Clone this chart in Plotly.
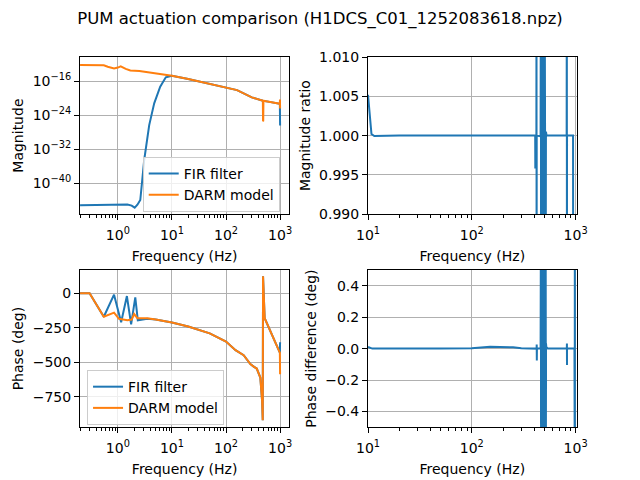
import plotly.graph_objects as go
from plotly.subplots import make_subplots

# magnitude (log10 of value)
fir_freq = [0.2, 0.5, 1.0, 1.5, 1.8, 2.05, 2.3, 2.6, 3.07, 3.8, 4.7, 6.07, 7.7, 9.3, 10,
            20, 50, 100, 160, 300, 400, 480, 600, 800, 990, 1000]
fir_mag_exp = [-45.1, -45.05, -44.9, -44.95, -45.2, -45.7, -45.0, -43.9, -34.5, -26.3, -21.2,
               -17.3, -15.1, -14.8, -14.75, -15.5, -16.6, -17.5, -18.1, -19.8, -20.3, -20.6,
               -20.8, -21.1, -21.3, -26.4]

darm_freq = [0.2, 0.3, 0.55, 0.65, 0.85, 1.0, 1.13, 1.4, 1.7, 2.5, 5, 10, 20, 50, 100, 160,
             300, 400, 480, 484, 488, 492, 600, 800, 990, 995, 1000]
darm_mag_exp = [-12.2, -12.2, -12.25, -12.6, -13.0, -12.8, -12.5, -13.1, -13.5, -13.6, -14.1,
                -14.75, -15.5, -16.6, -17.5, -18.1, -19.8, -20.3, -20.6, -25.4, -25.3, -20.6,
                -20.8, -21.1, -21.3, -20.3, -22.4]

# phase (deg)
fir_ph_freq = [0.2, 0.3, 0.55, 0.85, 1.15, 1.47, 1.76, 2.1, 2.34, 3.5, 5, 10, 20, 50, 100,
               150, 212, 282, 330, 370, 431, 465, 478, 484, 519, 600, 700, 800, 942, 990, 1000]
fir_phase = [0, 0, -170, -10, -210, -20, -225, -30, -195, -185, -190, -212, -240, -290, -350,
             -412, -448, -513, -533, -545, -610, -780, -920, 123, -180, -236, -295, -347, -410,
             -430, -354]

darm_ph_freq = [0.2, 0.3, 0.55, 0.85, 1.05, 1.5, 1.8, 2.0, 2.3, 3.5, 5, 10, 20, 50, 100,
                150, 212, 282, 330, 370, 431, 465, 478, 484, 519, 600, 700, 800, 942, 990, 1000]
darm_phase = [0, 0, -170, -140, -185, -195, -190, -150, -180, -180, -190, -212, -240, -290,
              -350, -412, -448, -513, -533, -545, -610, -780, -920, 123, -180, -236, -295, -347,
              -410, -430, -587]

# ratio FIR / DARM
ratio_freq = [10, 10.4, 10.8, 11.5, 20, 100, 200, 300, 400, 408, 409, 410,
              419, 420, 421, 422, 460,
              463, 465, 467, 469, 472, 475, 478, 481, 484, 487, 490, 494, 498, 502, 506,
              510, 514, 518, 525, 820, 823, 825, 827, 945, 948]
ratio = [1.0052, 1.0025, 1.0002, 0.99995, 1.0, 1.0, 1.00003, 1.00008, 1.00002, 1.0, 0.9958, 1.0,
         1.0, 1.03, 0.97, 1.0, 0.9999,
         1.03, 0.97, 1.03, 0.97, 0.9987, 1.03, 0.97, 1.03, 0.97, 1.03, 0.97, 1.03, 0.97, 1.03,
         0.97, 1.03, 0.97, 1.0005, 1.0, 1.0, 1.03, 0.97, 1.0, 1.0, 0.97]

# phase difference (deg)
pdiff_freq = [10, 10.5, 11, 50, 100, 150, 200, 250, 300, 350, 421, 422, 423, 424, 460,
              463, 465, 467, 469, 471, 473, 475, 477, 479, 481, 483, 485, 487, 489, 491, 493,
              495, 497, 499, 501, 503, 505, 507, 509, 511, 513, 515, 517, 519, 522, 540,
              823, 825, 826, 827, 975, 979, 981, 983, 985]
pdiff = [0.01, 0.003, 0.0, 0.0, 0.003, 0.012, 0.012, 0.008, 0.003, 0.0, 0.0, 0.026, -0.075,
         0.0, 0.0,
         0.8, -0.8, 0.8, -0.8, 0.8, -0.8, 0.8, -0.8, 0.8, -0.8, 0.8, -0.8, 0.8, -0.8, 0.8,
         -0.8, 0.8, -0.8, 0.8, -0.8, 0.8, -0.8, 0.8, -0.8, 0.8, -0.8, 0.8, -0.8, 0.03, 0.01,
         0.0, 0.0, 0.032, -0.105, 0.0, 0.0, 0.8, -0.8, 0.8, -0.8]

BLUE = '#1f77b4'
ORANGE = '#ff7f0e'

fig = make_subplots(rows=2, cols=2)

fig.add_trace(go.Scatter(x=fir_freq, y=[10 ** e for e in fir_mag_exp], mode='lines',
                         name='FIR filter', line=dict(color=BLUE, width=2),
                         legend='legend'), row=1, col=1)
fig.add_trace(go.Scatter(x=darm_freq, y=[10 ** e for e in darm_mag_exp], mode='lines',
                         name='DARM model', line=dict(color=ORANGE, width=2),
                         legend='legend'), row=1, col=1)
fig.add_trace(go.Scatter(x=ratio_freq, y=ratio, mode='lines', showlegend=False,
                         line=dict(color=BLUE, width=2)), row=1, col=2)
fig.add_trace(go.Scatter(x=fir_ph_freq, y=fir_phase, mode='lines', name='FIR filter',
                         line=dict(color=BLUE, width=2), legend='legend2'), row=2, col=1)
fig.add_trace(go.Scatter(x=darm_ph_freq, y=darm_phase, mode='lines', name='DARM model',
                         line=dict(color=ORANGE, width=2), legend='legend2'), row=2, col=1)
fig.add_trace(go.Scatter(x=pdiff_freq, y=pdiff, mode='lines', showlegend=False,
                         line=dict(color=BLUE, width=2)), row=2, col=2)

common = dict(showline=True, mirror=True, linecolor='black', linewidth=1,
              ticks='outside', ticklen=5, tickwidth=1, tickcolor='black',
              showgrid=True, gridcolor='#b0b0b0', gridwidth=0.8, zeroline=False,
              tickfont=dict(size=14, color='black'), automargin=False)

decades = ['10<sup>0</sup>', '10<sup>1</sup>', '10<sup>2</sup>', '10<sup>3</sup>']
minor_left = [m * 10 ** d for d in range(-1, 3) for m in range(2, 10)]
minor_right = [m * 10 ** d for d in range(1, 3) for m in range(2, 10)]

xl = dict(common, type='log', range=[-0.70, 3.17], tickvals=[1, 10, 100, 1000],
          ticktext=decades, ticklabelstandoff=3,
          minor=dict(tickvals=minor_left, ticks='outside', ticklen=3, tickcolor='black',
                     showgrid=False),
          title=dict(text='Frequency (Hz)', font=dict(size=14, color='black'), standoff=9))
xr = dict(common, type='log', range=[1, 3.01], tickvals=[10, 100, 1000],
          ticktext=decades[1:], ticklabelstandoff=3,
          minor=dict(tickvals=minor_right, ticks='outside', ticklen=3, tickcolor='black',
                     showgrid=False),
          title=dict(text='Frequency (Hz)', font=dict(size=14, color='black'), standoff=9))

fig.update_xaxes(xl, domain=[0.125, 0.452], row=1, col=1)
fig.update_xaxes(xl, domain=[0.125, 0.452], row=2, col=1)
fig.update_xaxes(xr, domain=[0.575, 0.901], row=1, col=2)
fig.update_xaxes(xr, domain=[0.575, 0.901], row=2, col=2)

fig.update_yaxes(common, type='log', range=[-47.2, -10.35], domain=[0.554, 0.881],
                 tickvals=[1e-40, 1e-32, 1e-24, 1e-16],
                 ticktext=['10<sup>\u221240</sup>', '10<sup>\u221232</sup>',
                           '10<sup>\u221224</sup>', '10<sup>\u221216</sup>'],
                 title=dict(text='Magnitude', font=dict(size=14, color='black'), standoff=5),
                 row=1, col=1)
fig.update_yaxes(common, range=[0.99, 1.01], domain=[0.554, 0.881],
                 tickvals=[0.99, 0.995, 1.0, 1.005, 1.01], tickformat='.3f',
                 title=dict(text='Magnitude ratio', font=dict(size=14, color='black'),
                            standoff=5),
                 row=1, col=2)
fig.update_yaxes(common, range=[-970, 169], domain=[0.110, 0.4375],
                 tickvals=[-750, -500, -250, 0],
                 title=dict(text='Phase (deg)', font=dict(size=14, color='black'), standoff=5),
                 row=2, col=1)
fig.update_yaxes(common, range=[-0.5, 0.5], domain=[0.110, 0.4375],
                 tickvals=[-0.4, -0.2, 0.0, 0.2, 0.4], tickformat='.1f',
                 title=dict(text='Phase difference (deg)', font=dict(size=14, color='black'),
                            standoff=5),
                 row=2, col=2)

legend_style = dict(bgcolor='rgba(255,255,255,0.8)', bordercolor='#cccccc', borderwidth=1,
                    font=dict(size=14, color='black'), xanchor='left', yanchor='top')

fig.update_layout(
    width=640, height=480,
    margin=dict(l=0, r=0, t=0, b=0),
    paper_bgcolor='white', plot_bgcolor='white',
    font=dict(family='DejaVu Sans', size=14, color='black'),
    title=dict(text='PUM actuation comparison (H1DCS_C01_1252083618.npz)',
               x=0.5, xanchor='center', y=1 - 18 / 480, yanchor='middle',
               font=dict(size=16.5, color='black')),
    legend=dict(legend_style, x=0.223, y=0.673),
    legend2=dict(legend_style, x=0.136, y=0.229),
)

# the page body has a default 8px margin; drop it so the figure fills the window
fig.write_html("out.html", config={'displayModeBar': False},
               post_script="document.body.style.margin = '0';")
